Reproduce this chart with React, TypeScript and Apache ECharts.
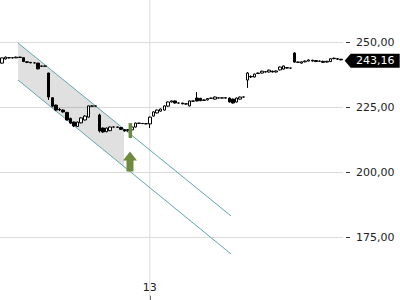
import React, { useEffect, useRef } from "react";
import * as echarts from "echarts";

// OHLC values (index = candle position)
const opens = [241.9,243.5,243.9,244.0,243.9,244.2,244.0,242.4,242.2,242.0,241.9,240.8,240.7,238.1,228.6,225.8,224.2,223.9,223.0,220.7,219.3,217.6,219.0,220.1,221.2,225.5,225.4,222.0,217.0,215.6,216.0,217.4,217.4,217.2,216.4,216.0,216.3,217.4,218.9,218.8,218.7,218.6,221.6,222.8,223.5,223.9,225.4,227.0,227.4,226.6,226.6,226.3,225.5,227.4,228.5,228.4,227.6,227.8,228.4,228.1,228.6,228.5,228.6,228.5,228.1,227.0,228.1,228.9,235.4,236.8,236.6,237.9,238.1,238.6,238.5,238.8,238.5,239.3,239.6,240.2,240.0,245.8,242.3,241.9,242.4,242.7,243.0,242.9,242.6,242.6,242.3,242.5,243.6,243.6,243.4];
const closes = [243.9,244.2,244.0,243.9,244.2,244.1,242.5,242.2,242.0,242.0,239.7,240.7,240.8,228.9,225.4,223.9,224.0,223.2,220.1,218.9,217.8,219.3,220.9,221.6,225.5,225.4,225.5,215.9,215.5,217.0,217.4,217.4,217.3,216.5,215.9,216.4,217.4,218.9,218.8,218.7,218.6,221.2,223.2,223.9,224.3,225.5,227.0,227.4,226.6,226.6,226.3,226.2,227.4,227.3,227.4,227.5,227.8,228.3,228.5,228.9,228.5,228.6,228.5,227.0,226.6,228.5,228.9,228.9,238.1,236.6,237.7,238.1,238.8,238.5,239.2,238.5,238.9,240.4,240.8,240.0,240.0,242.3,242.2,242.4,242.7,243.1,242.7,242.5,242.7,242.2,242.6,243.6,243.8,243.4,243.16];
const lows = [241.7,243.3,243.7,243.7,243.9,243.9,242.3,241.9,241.9,241.8,239.5,240.5,240.6,227.8,225.0,223.5,223.5,222.9,219.9,218.6,217.4,217.4,218.8,219.9,221.0,225.3,225.3,215.3,215.2,215.4,215.8,217.3,217.2,216.3,215.6,215.6,216.0,217.2,218.7,218.6,218.5,217.0,221.4,222.6,223.3,223.7,225.2,226.8,226.4,226.4,226.1,226.0,225.3,227.2,227.2,227.3,227.4,227.6,228.3,227.9,228.3,228.4,228.3,226.8,226.4,226.8,227.9,228.7,232.4,236.2,236.4,237.8,237.9,238.3,238.3,238.3,238.3,239.1,239.4,239.8,239.8,242.1,242.0,241.7,242.2,242.5,242.5,242.3,242.4,242.0,242.1,242.3,243.4,243.2,243.0];
const highs = [244.0,244.4,244.2,244.2,244.4,244.3,244.1,242.5,242.3,242.2,242.0,241.0,240.9,238.2,228.8,226.0,224.7,224.2,223.2,221.0,219.5,219.5,221.1,221.9,225.6,225.6,225.6,222.5,217.2,217.2,217.6,217.6,217.5,217.4,216.6,216.6,217.6,219.1,219.0,218.9,218.8,221.4,223.4,224.1,224.5,225.7,227.2,227.6,227.6,226.8,226.7,226.4,227.6,227.5,230.8,228.6,228.0,228.5,228.6,229.1,228.7,228.7,228.8,228.7,228.3,228.7,229.1,229.1,238.5,237.2,237.9,238.3,239.0,238.8,239.4,239.0,239.1,240.6,241.0,240.4,240.2,246.0,242.5,242.6,242.9,243.3,243.2,243.0,242.9,242.8,242.8,243.8,244.0,243.8,243.5];

// x-axis tick labels (category index -> text)
const tickLabels: Record<number, string> = { 41: "13" };

// Trend channel (category index, price)
const channelX = [4.5, 63.5];
const channelUpper = [249.6, 183.3];
const channelLower = [235.4, 168.7];
const shadeEndX = 33.85;

// Signal marker
const signalX = 35.6;
const signalHigh = 218.9;
const signalLow = 213.2;
const arrowX = 35.5;
const arrowTip = 208.0;

const categories = opens.map((_, i) => String(i));
const candles = opens.map((o, i) => [o, closes[i], lows[i], highs[i]]);
const lastClose = closes[closes.length - 1];
const fmt = (v: number) => v.toFixed(2).replace(".", ",");

const FONT = "DejaVu Sans";
const TEAL = "#5ea7ad";
const OLIVE = "#6d8a3e";

function pt(api: any, xi: number, yv: number): number[] {
  const i0 = Math.floor(xi);
  const a = api.coord([i0, yv]);
  const b = api.coord([i0 + 1, yv]);
  return [a[0] + (xi - i0) * (b[0] - a[0]), a[1]];
}

export default function App() {
  const ref = useRef<HTMLDivElement>(null);
  useEffect(() => {
    if (!ref.current) return;
    const chart = echarts.init(ref.current, null, { renderer: "svg" });
    const lerp = (arr: number[], x: number) =>
      arr[0] + ((arr[1] - arr[0]) * (x - channelX[0])) / (channelX[1] - channelX[0]);
    chart.setOption({
      animation: false,
      grid: {
        left: 0,
        right: 57,
        top: -23.2,
        bottom: -2.8,
        containLabel: false,
        outerBoundsMode: "none",
      },
      xAxis: {
        type: "category",
        data: categories,
        boundaryGap: true,
        axisLine: { show: false },
        axisTick: {
          show: true,
          inside: true,
          length: 7,
          alignWithLabel: true,
          interval: (i: number) => tickLabels[i] !== undefined,
          lineStyle: { color: "#333" },
        },
        axisLabel: {
          inside: true,
          margin: 10,
          interval: (i: number) => tickLabels[i] !== undefined,
          formatter: (_: string, i: number) => tickLabels[i] ?? "",
          color: "#222",
          fontSize: 11,
          fontFamily: FONT,
        },
        splitLine: { show: false },
      },
      yAxis: {
        type: "value",
        position: "right",
        min: 150,
        max: 275,
        interval: 25,
        offset: 3,
        axisLine: { show: false },
        axisTick: { show: true, length: 4, lineStyle: { color: "#333" } },
        axisLabel: {
          margin: 10,
          color: "#222",
          fontSize: 11,
          fontFamily: FONT,
          showMinLabel: false,
          showMaxLabel: false,
          formatter: (v: number) => fmt(v),
        },
        splitLine: { lineStyle: { color: "#dcdcdc" } },
      },
      series: [
        {
          type: "custom",
          z: 1,
          silent: true,
          clip: false,
          data: [[0, 200]],
          encode: { x: 0, y: 1 },
          renderItem: (params: any, api: any) => {
            const cs = params.coordSys;
            const vx = api.coord([41, 200])[0];
            const U1 = pt(api, channelX[0], channelUpper[0]);
            const U2 = pt(api, channelX[1], channelUpper[1]);
            const L1 = pt(api, channelX[0], channelLower[0]);
            const L2 = pt(api, channelX[1], channelLower[1]);
            const US = pt(api, shadeEndX, lerp(channelUpper, shadeEndX));
            const LS = pt(api, shadeEndX, lerp(channelLower, shadeEndX));
            return {
              type: "group",
              children: [
                {
                  type: "line",
                  shape: { x1: vx, y1: cs.y, x2: vx, y2: cs.y + cs.height },
                  style: { stroke: "#dcdcdc", lineWidth: 1 },
                },
                {
                  type: "polygon",
                  shape: { points: [U1, US, LS, L1] },
                  style: { fill: "rgba(0,0,0,0.12)" },
                },
                {
                  type: "line",
                  shape: { x1: U1[0], y1: U1[1], x2: U2[0], y2: U2[1] },
                  style: { stroke: TEAL, lineWidth: 1 },
                },
                {
                  type: "line",
                  shape: { x1: L1[0], y1: L1[1], x2: L2[0], y2: L2[1] },
                  style: { stroke: TEAL, lineWidth: 1 },
                },
              ],
            };
          },
        },
        {
          type: "candlestick",
          z: 2,
          data: candles,
          barWidth: 3,
          itemStyle: {
            color: "#ffffff",
            color0: "#000000",
            borderColor: "#000000",
            borderColor0: "#000000",
            borderWidth: 1,
          },
          markPoint: {
            silent: true,
            symbol: "path://M0,7 L6,0 L55,0 L55,14 L6,14 Z",
            symbolSize: [55, 14],
            symbolOffset: [31, 1],
            itemStyle: { color: "#000" },
            label: {
              show: true,
              position: "inside",
              offset: [3, 0],
              color: "#fff",
              fontSize: 11,
              fontFamily: FONT,
              formatter: () => fmt(lastClose),
            },
            data: [{ coord: [closes.length - 1, lastClose] }],
          },
        },
        {
          type: "custom",
          z: 3,
          silent: true,
          clip: false,
          data: [[0, 200]],
          encode: { x: 0, y: 1 },
          renderItem: (params: any, api: any) => {
            const top = pt(api, signalX, signalHigh);
            const bot = pt(api, signalX, signalLow);
            const tip = pt(api, arrowX, arrowTip);
            const cx = tip[0];
            const ty = tip[1];
            return {
              type: "group",
              children: [
                {
                  type: "rect",
                  shape: { x: top[0] - 1.75, y: top[1], width: 3.5, height: bot[1] - top[1] },
                  style: { fill: OLIVE },
                },
                {
                  type: "polygon",
                  shape: {
                    points: [
                      [cx, ty],
                      [cx + 7, ty + 9],
                      [cx + 3.5, ty + 9],
                      [cx + 3.5, ty + 20],
                      [cx - 3.5, ty + 20],
                      [cx - 3.5, ty + 9],
                      [cx - 7, ty + 9],
                    ],
                  },
                  style: { fill: OLIVE },
                },
              ],
            };
          },
        },
      ],
    });
    return () => chart.dispose();
  }, []);
  return (
    <div
      ref={ref}
      style={{ position: "absolute", left: 0, top: 0, width: 400, height: 300 }}
    />
  );
}
